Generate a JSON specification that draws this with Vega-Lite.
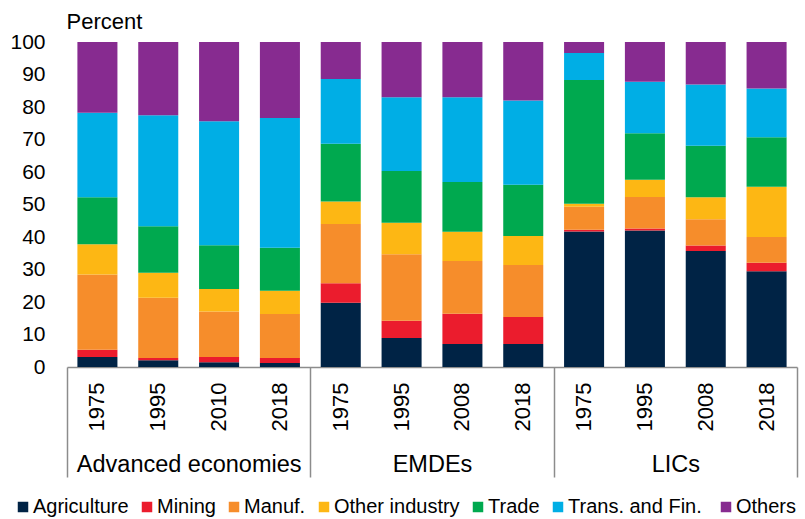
{
  "$schema": "https://vega.github.io/schema/vega-lite/v6.json",
  "autosize": {"type": "none"},
  "width": 730,
  "height": 325,
  "padding": {"left": 67, "top": 42, "right": 8, "bottom": 152},
  "background": "white",
  "config": {
    "view": {"stroke": null},
    "font": "Liberation Sans",
    "axis": {"labelFont": "Liberation Sans", "titleFont": "Liberation Sans", "labelColor": "#000000", "titleColor": "#000000"},
    "legend": {"labelFont": "Liberation Sans"}
  },
  "datasets": {
    "sectors": [
      {"sector": "Agriculture", "rank": 1},
      {"sector": "Mining", "rank": 2},
      {"sector": "Manuf.", "rank": 3},
      {"sector": "Other industry", "rank": 4},
      {"sector": "Trade", "rank": 5},
      {"sector": "Trans. and  Fin.", "rank": 6},
      {"sector": "Others", "rank": 7}
    ],
    "shares": [
      {"group": "Advanced economies", "bar": "AE 1975", "sector": "Agriculture", "value": 3.1},
      {"group": "Advanced economies", "bar": "AE 1975", "sector": "Mining", "value": 2.2},
      {"group": "Advanced economies", "bar": "AE 1975", "sector": "Manuf.", "value": 23.2},
      {"group": "Advanced economies", "bar": "AE 1975", "sector": "Other industry", "value": 9.3},
      {"group": "Advanced economies", "bar": "AE 1975", "sector": "Trade", "value": 14.4},
      {"group": "Advanced economies", "bar": "AE 1975", "sector": "Trans. and  Fin.", "value": 26.0},
      {"group": "Advanced economies", "bar": "AE 1975", "sector": "Others", "value": 21.8},
      {"group": "Advanced economies", "bar": "AE 1995", "sector": "Agriculture", "value": 2.1},
      {"group": "Advanced economies", "bar": "AE 1995", "sector": "Mining", "value": 0.7},
      {"group": "Advanced economies", "bar": "AE 1995", "sector": "Manuf.", "value": 18.5},
      {"group": "Advanced economies", "bar": "AE 1995", "sector": "Other industry", "value": 7.7},
      {"group": "Advanced economies", "bar": "AE 1995", "sector": "Trade", "value": 14.3},
      {"group": "Advanced economies", "bar": "AE 1995", "sector": "Trans. and  Fin.", "value": 34.2},
      {"group": "Advanced economies", "bar": "AE 1995", "sector": "Others", "value": 22.5},
      {"group": "Advanced economies", "bar": "AE 2010", "sector": "Agriculture", "value": 1.5},
      {"group": "Advanced economies", "bar": "AE 2010", "sector": "Mining", "value": 1.6},
      {"group": "Advanced economies", "bar": "AE 2010", "sector": "Manuf.", "value": 14.0},
      {"group": "Advanced economies", "bar": "AE 2010", "sector": "Other industry", "value": 6.9},
      {"group": "Advanced economies", "bar": "AE 2010", "sector": "Trade", "value": 13.5},
      {"group": "Advanced economies", "bar": "AE 2010", "sector": "Trans. and  Fin.", "value": 38.1},
      {"group": "Advanced economies", "bar": "AE 2010", "sector": "Others", "value": 24.4},
      {"group": "Advanced economies", "bar": "AE 2018", "sector": "Agriculture", "value": 1.2},
      {"group": "Advanced economies", "bar": "AE 2018", "sector": "Mining", "value": 1.6},
      {"group": "Advanced economies", "bar": "AE 2018", "sector": "Manuf.", "value": 13.5},
      {"group": "Advanced economies", "bar": "AE 2018", "sector": "Other industry", "value": 7.2},
      {"group": "Advanced economies", "bar": "AE 2018", "sector": "Trade", "value": 13.2},
      {"group": "Advanced economies", "bar": "AE 2018", "sector": "Trans. and  Fin.", "value": 39.9},
      {"group": "Advanced economies", "bar": "AE 2018", "sector": "Others", "value": 23.4},
      {"group": "EMDEs", "bar": "EMDE 1975", "sector": "Agriculture", "value": 19.8},
      {"group": "EMDEs", "bar": "EMDE 1975", "sector": "Mining", "value": 6.0},
      {"group": "EMDEs", "bar": "EMDE 1975", "sector": "Manuf.", "value": 18.2},
      {"group": "EMDEs", "bar": "EMDE 1975", "sector": "Other industry", "value": 6.9},
      {"group": "EMDEs", "bar": "EMDE 1975", "sector": "Trade", "value": 17.8},
      {"group": "EMDEs", "bar": "EMDE 1975", "sector": "Trans. and  Fin.", "value": 19.9},
      {"group": "EMDEs", "bar": "EMDE 1975", "sector": "Others", "value": 11.4},
      {"group": "EMDEs", "bar": "EMDE 1995", "sector": "Agriculture", "value": 8.9},
      {"group": "EMDEs", "bar": "EMDE 1995", "sector": "Mining", "value": 5.3},
      {"group": "EMDEs", "bar": "EMDE 1995", "sector": "Manuf.", "value": 20.5},
      {"group": "EMDEs", "bar": "EMDE 1995", "sector": "Other industry", "value": 9.7},
      {"group": "EMDEs", "bar": "EMDE 1995", "sector": "Trade", "value": 15.9},
      {"group": "EMDEs", "bar": "EMDE 1995", "sector": "Trans. and  Fin.", "value": 22.7},
      {"group": "EMDEs", "bar": "EMDE 1995", "sector": "Others", "value": 17.0},
      {"group": "EMDEs", "bar": "EMDE 2008", "sector": "Agriculture", "value": 7.1},
      {"group": "EMDEs", "bar": "EMDE 2008", "sector": "Mining", "value": 9.3},
      {"group": "EMDEs", "bar": "EMDE 2008", "sector": "Manuf.", "value": 16.2},
      {"group": "EMDEs", "bar": "EMDE 2008", "sector": "Other industry", "value": 9.0},
      {"group": "EMDEs", "bar": "EMDE 2008", "sector": "Trade", "value": 15.3},
      {"group": "EMDEs", "bar": "EMDE 2008", "sector": "Trans. and  Fin.", "value": 26.1},
      {"group": "EMDEs", "bar": "EMDE 2008", "sector": "Others", "value": 17.0},
      {"group": "EMDEs", "bar": "EMDE 2018", "sector": "Agriculture", "value": 7.1},
      {"group": "EMDEs", "bar": "EMDE 2018", "sector": "Mining", "value": 8.3},
      {"group": "EMDEs", "bar": "EMDE 2018", "sector": "Manuf.", "value": 16.0},
      {"group": "EMDEs", "bar": "EMDE 2018", "sector": "Other industry", "value": 8.9},
      {"group": "EMDEs", "bar": "EMDE 2018", "sector": "Trade", "value": 15.8},
      {"group": "EMDEs", "bar": "EMDE 2018", "sector": "Trans. and  Fin.", "value": 25.9},
      {"group": "EMDEs", "bar": "EMDE 2018", "sector": "Others", "value": 18.0},
      {"group": "LICs", "bar": "LIC 1975", "sector": "Agriculture", "value": 41.7},
      {"group": "LICs", "bar": "LIC 1975", "sector": "Mining", "value": 0.5},
      {"group": "LICs", "bar": "LIC 1975", "sector": "Manuf.", "value": 7.1},
      {"group": "LICs", "bar": "LIC 1975", "sector": "Other industry", "value": 0.9},
      {"group": "LICs", "bar": "LIC 1975", "sector": "Trade", "value": 38.1},
      {"group": "LICs", "bar": "LIC 1975", "sector": "Trans. and  Fin.", "value": 8.3},
      {"group": "LICs", "bar": "LIC 1975", "sector": "Others", "value": 3.4},
      {"group": "LICs", "bar": "LIC 1995", "sector": "Agriculture", "value": 42.0},
      {"group": "LICs", "bar": "LIC 1995", "sector": "Mining", "value": 0.6},
      {"group": "LICs", "bar": "LIC 1995", "sector": "Manuf.", "value": 9.7},
      {"group": "LICs", "bar": "LIC 1995", "sector": "Other industry", "value": 5.3},
      {"group": "LICs", "bar": "LIC 1995", "sector": "Trade", "value": 14.3},
      {"group": "LICs", "bar": "LIC 1995", "sector": "Trans. and  Fin.", "value": 15.9},
      {"group": "LICs", "bar": "LIC 1995", "sector": "Others", "value": 12.2},
      {"group": "LICs", "bar": "LIC 2008", "sector": "Agriculture", "value": 35.7},
      {"group": "LICs", "bar": "LIC 2008", "sector": "Mining", "value": 1.7},
      {"group": "LICs", "bar": "LIC 2008", "sector": "Manuf.", "value": 8.1},
      {"group": "LICs", "bar": "LIC 2008", "sector": "Other industry", "value": 6.7},
      {"group": "LICs", "bar": "LIC 2008", "sector": "Trade", "value": 15.9},
      {"group": "LICs", "bar": "LIC 2008", "sector": "Trans. and  Fin.", "value": 18.8},
      {"group": "LICs", "bar": "LIC 2008", "sector": "Others", "value": 13.1},
      {"group": "LICs", "bar": "LIC 2018", "sector": "Agriculture", "value": 29.5},
      {"group": "LICs", "bar": "LIC 2018", "sector": "Mining", "value": 2.6},
      {"group": "LICs", "bar": "LIC 2018", "sector": "Manuf.", "value": 7.9},
      {"group": "LICs", "bar": "LIC 2018", "sector": "Other industry", "value": 15.5},
      {"group": "LICs", "bar": "LIC 2018", "sector": "Trade", "value": 15.2},
      {"group": "LICs", "bar": "LIC 2018", "sector": "Trans. and  Fin.", "value": 15.0},
      {"group": "LICs", "bar": "LIC 2018", "sector": "Others", "value": 14.3}
    ]
  },
  "data": {"name": "shares"},
  "layer": [
    {
      "transform": [
        {"lookup": "sector", "from": {"data": {"name": "sectors"}, "key": "sector", "fields": ["rank"]}}
      ],
      "mark": {"type": "bar"},
      "encoding": {
        "x": {
          "field": "bar", "type": "nominal", "sort": null,
          "scale": {"type": "band", "paddingInner": 0.342, "paddingOuter": 0.171},
          "axis": {
            "orient": "bottom", "title": null, "labelAngle": -90, "labelFontSize": 22,
            "labelExpr": "slice(datum.label, -4)", "labelPadding": 15,
            "ticks": false, "domain": true, "domainColor": "#8c8c8c", "domainWidth": 1.5
          }
        },
        "y": {
          "field": "value", "type": "quantitative", "stack": "zero",
          "scale": {"domain": [0, 100], "nice": false},
          "axis": {
            "values": [0, 10, 20, 30, 40, 50, 60, 70, 80, 90, 100],
            "grid": false, "domain": false, "ticks": false, "labelPadding": 22, "labelFontSize": 21,
            "title": "Percent", "titleAngle": 0, "titleAlign": "left", "titleBaseline": "alphabetic",
            "titleX": -1, "titleY": -14, "titleFontSize": 22, "titleFontWeight": "normal"
          }
        },
        "order": {"field": "rank", "type": "quantitative", "sort": "ascending"},
        "color": {
          "field": "sector", "type": "nominal",
          "scale": {
            "domain": ["Agriculture", "Mining", "Manuf.", "Other industry", "Trade", "Trans. and  Fin.", "Others"],
            "range": ["#002345", "#EB1C2D", "#F68D2B", "#FDB714", "#00A94F", "#00AEE5", "#872B90"]
          },
          "legend": {
            "orient": "none", "direction": "horizontal", "legendX": -54, "legendY": 455,
            "title": null, "symbolType": "square", "symbolSize": 110, "symbolStrokeWidth": 0,
            "labelFontSize": 20, "labelColor": "#000000", "labelOffset": 0, "columnPadding": 8, "labelLimit": 300
          }
        }
      }
    },
    {
      "mark": {"type": "rule", "opacity": 0},
      "encoding": {
        "x": {
          "field": "group", "type": "nominal",
          "sort": ["Advanced economies", "EMDEs", "LICs"],
          "scale": {"type": "band", "paddingInner": 0, "paddingOuter": 0},
          "axis": {
            "orient": "bottom", "title": null, "labelAngle": 0, "domain": false,
            "ticks": true, "tickBand": "extent", "tickSize": 110, "tickColor": "#8c8c8c", "tickWidth": 1.5,
            "labelFontSize": 23.5, "labelBaseline": "alphabetic", "labelPadding": -6, "labelLimit": 400
          }
        }
      }
    }
  ],
  "resolve": {"scale": {"x": "independent"}, "axis": {"x": "independent"}}
}
